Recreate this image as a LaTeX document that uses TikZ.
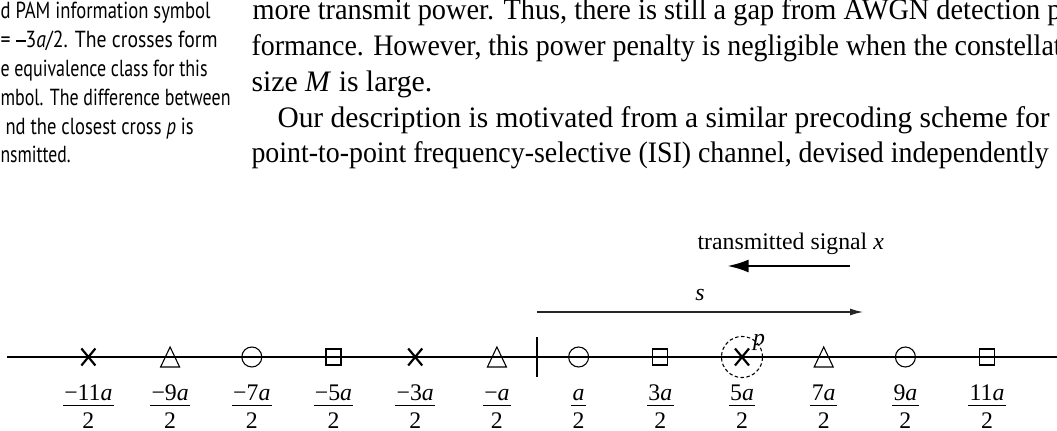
\documentclass[tikz,border=0pt]{standalone}
\usepackage{fontspec}
\usepackage{graphicx}
\setmainfont{Liberation Serif}
\newfontfamily\capfont{PT Sans}
\usetikzlibrary{arrows.meta}
\newcommand{\capminus}{\raisebox{0.26em}{\rule{0.5em}{0.075em}}}
\tikzset{
  bodyline/.style={inner sep=0pt, anchor=base west, font=\fontsize{11pt}{13pt}\selectfont},
  capline/.style={inner sep=0pt, anchor=base west, font=\capfont\fontsize{8.6pt}{10pt}\selectfont},
  lbl/.style={inner sep=0pt, font=\fontsize{8.8pt}{10pt}\selectfont},
  fracnum/.style={inner sep=0pt, anchor=base, font=\fontsize{8.8pt}{10pt}\selectfont},
  axisline/.style={line width=0.4pt},
  fbar/.style={line width=0.4pt},
  xmk/.style={line width=0.8pt},
  mk/.style={line width=0.4pt},
  sarrow/.style={line width=0.45pt, draw=black!85, -{Latex[length=4.8pt,width=2.6pt]}},
  txarrow/.style={line width=1pt, -{Latex[length=8pt,width=4.8pt]}},
  dashcirc/.style={line width=0.4pt, dash pattern=on 1.3pt off 0.9pt}
}
\begin{document}
\begin{tikzpicture}[x=0.37pt,y=-0.37pt]
\useasboundingbox (0,0) rectangle (1057,431);
\begin{scope}
\clip (0,0) rectangle (1057,431);
% caption fragments (left column)
\node[capline] (c1) at (0,19) {\resizebox{77.7pt}{\height}{d PAM information symbol}};
\node[capline] (c2) at (0,47.8) {\resizebox{80.3pt}{\height}{= \capminus3\textit{a}/2. The crosses form}};
\node[capline] (c3) at (0,76.6) {\resizebox{76.6pt}{\height}{e equivalence class for this}};
\node[capline] (c4) at (0,105.4) {\resizebox{85.1pt}{\height}{mbol. The difference between}};
\node[capline] (c5) at (5,134.2) {\resizebox{69.6pt}{\height}{nd the closest cross \textit{p} is}};
\node[capline] (c6) at (0,163) {\resizebox{25.9pt}{\height}{nsmitted.}};
% body text
\node[bodyline] (b1) at (252,20) {\resizebox{299.3pt}{\height}{more transmit power. Thus, there is still a gap from AWGN detection p}};
\node[bodyline] (b2) at (251,55.75) {\resizebox{299.7pt}{\height}{formance. However, this power penalty is negligible when the constellat}};
\node[bodyline] (b3) at (251,91.5) {size \textit{M} is large.};
\node[bodyline] (b4) at (277,127.25) {\resizebox{285.6pt}{\height}{Our description is motivated from a similar precoding scheme for}};
\node[bodyline] (b5) at (251,163) {\resizebox{294.9pt}{\height}{point-to-point frequency-selective (ISI) channel, devised independently}};
\end{scope}

% axis
\coordinate (axL) at (7,357);
\coordinate (axR) at (1057,357);
\draw[axisline] (axL) -- (axR);
\coordinate (tkT) at (537,337);
\coordinate (tkB) at (537,377);
\draw[axisline] (tkT) -- (tkB);

% marker positions
\foreach \k in {1,...,12}
  \coordinate (m\k) at ({88.4+81.7*(\k-1)},357);

% crosses
\foreach \k in {1,5,9}
  \draw[xmk] (m\k) +(-7,-8.5) -- +(7,8.5) +(-7,8.5) -- +(7,-8.5);
% triangles
\foreach \k in {2,6,10}
  \draw[mk] (m\k) +(-9.5,10) -- +(0,-10) -- +(9.5,10) -- cycle;
% circles
\foreach \k in {3,7,11}
  \draw[mk] (m\k) circle[radius=3.7pt];
% squares
\foreach \k in {4,8,12}
  \draw[mk] (m\k) +(-7.5,-8) rectangle +(7.5,8);

% dashed circle around p
\draw[dashcirc] (m9) circle[radius=7.6pt];
\node[lbl, anchor=base] (plab) at (759,345) {\textit{p}};

% fraction labels
\foreach \k/\n in {1/−11,2/−9,3/−7,4/−5,5/−3,6/−,7/,8/3,9/5,10/7,11/9,12/11}{
  \node[fracnum] (n\k) at ({88.4+81.7*(\k-1)},400) {\n\textit{a}};
  \node[fracnum] (d\k) at ({88.4+81.7*(\k-1)},428) {2};
  \draw[fbar] ([xshift=-0.3pt,yshift=-2.1pt]n\k.base west) -- ([xshift=0.3pt,yshift=-2.1pt]n\k.base east);
}

% arrows
\coordinate (sA) at (537,312);
\coordinate (sB) at (863,312);
\draw[sarrow] (sA) -- (sB);
\node[lbl] (slab) at (700,295) {\textit{s}};

\coordinate (txA) at (850,266);
\coordinate (txB) at (727,266);
\draw[txarrow] (txA) -- (txB);
\node[lbl, anchor=base west] (txlab) at (697,249) {transmitted signal \textit{x}};
\end{tikzpicture}
\end{document}
